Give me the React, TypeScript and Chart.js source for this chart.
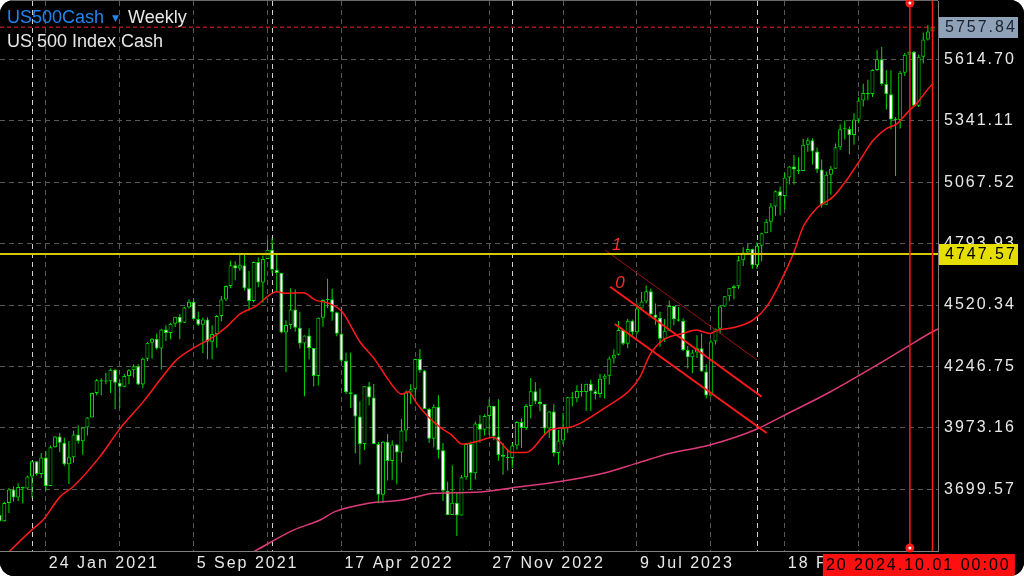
import React, { useEffect, useRef } from "react";
import { Chart, registerables } from "chart.js";

Chart.register(...registerables);

// Weekly bars, index 0 = week of 15 Nov 2020 ... index 202 = week of 29 Sep 2024
const OPEN: number[] = [
  3585.2, 3557.5, 3638.4, 3699.1, 3663.5, 3709.4, 3703.1, 3756.1, 3824.7, 3768.3,
  3841.5, 3714.2, 3886.8, 3934.8, 3906.7, 3811.2, 3841.9, 3943.3, 3913.1, 3974.5,
  4019.9, 4128.8, 4185.5, 4180.2, 4181.2, 4232.6, 4173.9, 4155.9, 4204.1, 4229.9,
  4247.4, 4166.5, 4280.7, 4352.3, 4369.6, 4327.2, 4411.8, 4395.3, 4436.5, 4468.0,
  4441.7, 4509.4, 4535.4, 4458.6, 4433.0, 4455.5, 4357.0, 4391.3, 4471.4, 4544.9,
  4605.4, 4697.5, 4682.9, 4698.0, 4594.6, 4538.4, 4712.0, 4620.6, 4725.8, 4766.2,
  4677.0, 4662.9, 4397.9, 4431.9, 4500.5, 4418.6, 4348.9, 4384.7, 4328.9, 4204.3,
  4463.1, 4543.1, 4545.9, 4488.3, 4392.6, 4271.8, 4131.9, 4123.3, 4023.9, 3901.4,
  4158.2, 4108.5, 3900.9, 3674.8, 3911.7, 3825.3, 3899.4, 3863.2, 3961.6, 4130.3,
  4145.2, 4280.2, 4228.5, 4057.7, 3924.3, 4067.4, 3873.3, 3693.2, 3585.6, 3639.7,
  3583.1, 3752.8, 3901.1, 3770.6, 3992.9, 3965.3, 4026.1, 4071.7, 3934.4, 3852.4,
  3844.8, 3839.5, 3895.1, 3999.1, 3972.6, 4070.6, 4136.5, 4090.5, 4079.1, 3970.0,
  4045.6, 3861.6, 3916.6, 3971.0, 4109.3, 4105.0, 4137.6, 4133.5, 4169.5, 4136.3,
  4124.1, 4192.0, 4205.5, 4282.4, 4298.9, 4409.6, 4348.3, 4450.4, 4399.0, 4505.4,
  4536.3, 4582.2, 4478.0, 4464.1, 4369.7, 4405.7, 4515.8, 4457.5, 4450.3, 4320.1,
  4288.1, 4308.5, 4327.8, 4224.2, 4117.4, 4358.3, 4415.2, 4514.0, 4559.3, 4594.6,
  4604.4, 4719.2, 4754.6, 4769.8, 4697.2, 4783.8, 4839.8, 4891.0, 4958.6, 5026.6,
  5005.6, 5088.8, 5137.1, 5123.7, 5117.1, 5234.2, 5254.4, 5204.3, 5123.4, 4967.2,
  5100.0, 5127.8, 5222.7, 5303.3, 5304.7, 5277.5, 5347.0, 5431.6, 5464.6, 5460.5,
  5567.2, 5615.4, 5505.0, 5459.1, 5349.0, 5344.2, 5554.3, 5634.6, 5648.4, 5408.4,
  5626.0, 5702.6, 5738.2,
];
const HIGH: number[] = [
  3628, 3644, 3705, 3712, 3727, 3711, 3760, 3827, 3823, 3861,
  3870, 3895, 3937, 3950, 3929, 3915, 3960, 3984, 3978, 4021,
  4130, 4191, 4194, 4219, 4238, 4236, 4188, 4213, 4234, 4256,
  4257, 4286, 4356, 4372, 4394, 4415, 4430, 4441, 4468.5, 4480,
  4513, 4546, 4546, 4492, 4465, 4466, 4430, 4476, 4560, 4608,
  4718, 4715, 4744, 4744, 4672, 4714, 4732, 4741, 4809, 4818,
  4749, 4664, 4453, 4595, 4590, 4490, 4385, 4417, 4327, 4465,
  4546, 4637, 4593, 4490, 4513, 4308, 4308, 4124, 4091, 4158.5,
  4178, 4169, 3910, 3914, 3946, 3918, 3901, 4013, 4140, 4168,
  4281, 4325, 4231, 4063, 4077, 4119, 3906, 3733, 3807, 3685,
  3763, 3905, 3912, 4002, 4029, 4034, 4101, 4072, 4101, 3906,
  3878, 3906, 4004, 4015, 4079, 4195, 4176, 4148, 4080, 4048,
  4079, 3965, 4040, 4111, 4133, 4163, 4170, 4170, 4187, 4143,
  4213, 4213, 4291, 4323, 4449, 4410, 4458, 4456, 4528, 4578,
  4607, 4594, 4527, 4490, 4458, 4541, 4518, 4512, 4461, 4338,
  4320, 4386, 4394, 4256, 4366, 4415.5, 4520, 4560, 4595, 4609,
  4739, 4778, 4793, 4772, 4799, 4842, 4904, 4975, 5030, 5048,
  5111, 5140, 5189, 5179, 5261, 5265, 5263, 5222, 5168, 5115,
  5140, 5240, 5326, 5342, 5316, 5375, 5447, 5506, 5524, 5570,
  5656, 5670, 5566, 5566, 5358, 5563, 5643, 5652, 5652, 5636,
  5734, 5767, 5768,
];
const LOW: number[] = [
  3552, 3555, 3594, 3644, 3647, 3636, 3700, 3662, 3760, 3750,
  3694, 3714, 3885, 3865, 3805, 3723, 3819, 3903, 3853, 3939,
  4020, 4118, 4118, 4168, 4128, 4056, 4061, 4154, 4167, 4198,
  4164, 4150, 4271, 4281, 4321, 4233, 4360, 4368, 4422, 4368,
  4440, 4505, 4457, 4428, 4306, 4279, 4279, 4330, 4448, 4537,
  4595, 4631, 4673, 4585, 4495, 4532, 4600, 4531, 4725, 4662,
  4582, 4395, 4222, 4414, 4401, 4327, 4114, 4279, 4157, 4162,
  4424, 4507, 4450, 4381, 4268, 4124, 4062, 3859, 3810, 3875,
  4074, 3900, 3637, 3639, 3739, 3742, 3722, 3819, 3913, 4080,
  4112, 4219, 4057, 3906, 3887, 3837, 3648, 3584, 3585, 3492,
  3583, 3742, 3698, 3743, 3907, 3939, 3942, 3918, 3827, 3764,
  3783, 3794, 3877, 3885, 3964, 4015, 4079, 4047, 3943, 3928,
  3846, 3809, 3899, 3951, 4069, 4087, 4113, 4049, 4048, 4099,
  4109, 4104, 4166, 4260, 4295, 4341, 4328, 4385, 4390, 4505,
  4528, 4475, 4432, 4335, 4356, 4405, 4430, 4447, 4316, 4238,
  4217, 4284, 4223, 4104, 4113, 4344, 4393, 4512, 4537, 4546,
  4593, 4694, 4752, 4682, 4682, 4715, 4840, 4845, 4918, 4920,
  4946, 5057, 5057, 5104, 5117, 5203, 5146, 5108, 4954, 4967,
  5011, 5128, 5211, 5257, 5192, 5234, 5331, 5404, 5432, 5447,
  5563, 5497, 5391, 5303, 5095, 5307, 5540, 5561, 5403, 5402,
  5596, 5698, 5725,
];
const CLOSE: number[] = [
  3557.5, 3638.4, 3699.1, 3663.5, 3709.4, 3703.1, 3756.1, 3824.7, 3768.3, 3841.5,
  3714.2, 3886.8, 3934.8, 3906.7, 3811.2, 3841.9, 3943.3, 3913.1, 3974.5, 4019.9,
  4128.8, 4185.5, 4180.2, 4181.2, 4232.6, 4173.9, 4155.9, 4204.1, 4229.9, 4247.4,
  4166.5, 4280.7, 4352.3, 4369.6, 4327.2, 4411.8, 4395.3, 4436.5, 4468.0, 4441.7,
  4509.4, 4535.4, 4458.6, 4433.0, 4455.5, 4357.0, 4391.3, 4471.4, 4544.9, 4605.4,
  4697.5, 4682.9, 4698.0, 4594.6, 4538.4, 4712.0, 4620.6, 4725.8, 4766.2, 4677.0,
  4662.9, 4397.9, 4431.9, 4500.5, 4418.6, 4348.9, 4384.7, 4328.9, 4204.3, 4463.1,
  4543.1, 4545.9, 4488.3, 4392.6, 4271.8, 4131.9, 4123.3, 4023.9, 3901.4, 4158.2,
  4108.5, 3900.9, 3674.8, 3911.7, 3825.3, 3899.4, 3863.2, 3961.6, 4130.3, 4145.2,
  4280.2, 4228.5, 4057.7, 3924.3, 4067.4, 3873.3, 3693.2, 3585.6, 3639.7, 3583.1,
  3752.8, 3901.1, 3770.6, 3992.9, 3965.3, 4026.1, 4071.7, 3934.4, 3852.4, 3844.8,
  3839.5, 3895.1, 3999.1, 3972.6, 4070.6, 4136.5, 4090.5, 4079.1, 3970.0, 4045.6,
  3861.6, 3916.6, 3971.0, 4109.3, 4105.0, 4137.6, 4133.5, 4169.5, 4136.3, 4124.1,
  4192.0, 4205.5, 4282.4, 4298.9, 4409.6, 4348.3, 4450.4, 4399.0, 4505.4, 4536.3,
  4582.2, 4478.0, 4464.1, 4369.7, 4405.7, 4515.8, 4457.5, 4450.3, 4320.1, 4288.1,
  4308.5, 4327.8, 4224.2, 4117.4, 4358.3, 4415.2, 4514.0, 4559.3, 4594.6, 4604.4,
  4719.2, 4754.6, 4769.8, 4697.2, 4783.8, 4839.8, 4891.0, 4958.6, 5026.6, 5005.6,
  5088.8, 5137.1, 5123.7, 5117.1, 5234.2, 5254.4, 5204.3, 5123.4, 4967.2, 5100.0,
  5127.8, 5222.7, 5303.3, 5304.7, 5277.5, 5347.0, 5431.6, 5464.6, 5460.5, 5567.2,
  5615.4, 5505.0, 5459.1, 5346.6, 5344.2, 5554.3, 5634.6, 5648.4, 5408.4, 5626.0,
  5702.6, 5738.2, 5757.8,
];

// 20-week moving average (red): bar index / price
const MA_FAST_X = [0, 2.2, 6.9, 9.4, 13.1, 15.9, 21.7, 26.1, 31.1, 34.7, 38.3, 41.9, 46.3, 49.2, 52.0, 55.3, 60.0, 61.8, 65.8, 68.3, 71.2, 74.1, 78.0, 81.3, 84.2, 87.1, 88.5, 90.3, 92.8, 95.7, 97.9, 100.1, 102.9, 106.9, 108.3, 110.9, 114.1, 119.2, 123.5, 126.4, 131.4, 136.5, 138.7, 140.8, 143.7, 148.0, 150.9, 153.8, 155.6, 159.2, 163.2, 166.1, 169.0, 171.9, 174.0, 176.9, 180.5, 183.4, 186.3, 189.2, 192.1, 194.2, 196.4, 198.6, 201.8, 202.2];
const MA_FAST_Y = [3380, 3425, 3518, 3563, 3667, 3711, 3845, 3971, 4090, 4186, 4276, 4328, 4379, 4424, 4480, 4513, 4580, 4573, 4575, 4543, 4528, 4491, 4357, 4276, 4186, 4123, 4134, 4083, 4023, 3971, 3941, 3901, 3910, 3931, 3912, 3863, 3864, 3964, 3976, 4001, 4067, 4142, 4201, 4298, 4365, 4394, 4409, 4394, 4409, 4421, 4454, 4513, 4620, 4751, 4869, 4951, 5003, 5077, 5166, 5255, 5307, 5326, 5374, 5419, 5500, 5506];

// 200-week moving average (pink)
const MA_SLOW_X = [50, 55.3, 63.6, 69.4, 72.6, 79.8, 87.1, 94.3, 102.9, 112.7, 121.3, 130.7, 137.9, 145.2, 153.8, 163.9, 169.0, 179.8, 190.6, 197.1, 201.8, 203.2];
const MA_SLOW_Y = [3365, 3425, 3518, 3563, 3600, 3637, 3652, 3682, 3686, 3711, 3734, 3771, 3815, 3860, 3897, 3967, 4020, 4133, 4261, 4342, 4399, 4414];

const X_TICKS = [10, 26, 42, 58, 74, 90, 106, 122, 138, 154, 170, 186, 202];
const X_TICK_LABELS = ["24 Jan 2021", "", "5 Sep 2021", "", "17 Apr 2022", "", "27 Nov 2022", "", "9 Jul 2023", "", "18 Feb 2024", "", ""];
const Y_TICKS = [3699.57, 3973.16, 4246.75, 4520.34, 4793.93, 5067.52, 5341.11, 5614.7];
const YEAR_SEPARATORS = [7, 59, 111, 164];

const X_MIN = 0.07;
const X_MAX = 203.19;
const Y_MIN = 3424.8;
const Y_MAX = 5874.4;

const LEVEL = 4747.57;
const LAST_PRICE = 5757.84;
const V_LINES = [197.1, 202];

// channel / fibo lines (bar index, price)
const FIB1_X = [131.1, 164.0];
const FIB1_Y = [4765.4, 4275.5];
const FIB0_X = [132.2, 165.0];
const FIB0_Y = [4601.9, 4112.0];
const CHAN_X = [133.2, 166.1];
const CHAN_Y = [4435.8, 3950.4];

const LIME = "#00e000";
const FONT = '"Liberation Sans", Arial, sans-serif';

export default function App() {
  const ref = useRef<HTMLCanvasElement>(null);

  useEffect(() => {
    document.body.style.margin = "0";
    document.body.style.background = "#ffffff";
    const canvas = ref.current!;
    const idx = CLOSE.map((_, i) => i);

    const pts = (xs: number[], ys: number[]) => xs.map((x, i) => ({ x, y: ys[i] }));

    const overlay = {
      id: "overlay",
      beforeDraw(chart: any) {
        const { ctx, width, height } = chart;
        ctx.save();
        ctx.fillStyle = "#000";
        ctx.fillRect(0, 0, width, height);
        ctx.restore();
        ctx.letterSpacing = "2px";
      },
      beforeDatasetsDraw(chart: any) {
        const { ctx, chartArea: ca, scales } = chart;
        ctx.save();
        ctx.strokeStyle = "#cfcfcf";
        ctx.lineWidth = 1;
        ctx.setLineDash([5, 4]);
        YEAR_SEPARATORS.forEach((i) => {
          const px = Math.round(scales.x.getPixelForValue(i)) + 0.5;
          ctx.beginPath();
          ctx.moveTo(px, ca.top);
          ctx.lineTo(px, ca.bottom);
          ctx.stroke();
        });
        ctx.restore();
      },
      afterDraw(chart: any) {
        const { ctx, chartArea: ca, scales } = chart;
        const xs = scales.x;
        const ys = scales.y;
        ctx.save();
        ctx.letterSpacing = "0px";
        // top frame
        ctx.strokeStyle = "#6a6a6a";
        ctx.lineWidth = 1;
        ctx.beginPath();
        ctx.moveTo(0, 0.5);
        ctx.lineTo(ca.right, 0.5);
        ctx.stroke();

        // price boxes
        const box = (val: number, bg: string, fg: string, text: string) => {
          const py = Math.round(ys.getPixelForValue(val));
          ctx.fillStyle = bg;
          ctx.fillRect(ca.right + 1, py - 10, 79, 21);
          ctx.letterSpacing = "2px";
          ctx.fillStyle = fg;
          ctx.font = `16px ${FONT}`;
          ctx.textAlign = "left";
          ctx.textBaseline = "middle";
          ctx.fillText(text, ca.right + 7, py + 1);
          ctx.letterSpacing = "0px";
        };
        box(LAST_PRICE, "#8fa2b8", "#1a2230", LAST_PRICE.toFixed(2));
        box(LEVEL, "#e6de00", "#000000", LEVEL.toFixed(2));

        // markers on the vertical line
        const vx = xs.getPixelForValue(V_LINES[0]);
        [ca.top + 2, ca.bottom - 3].forEach((cy: number) => {
          ctx.fillStyle = "#ff1a1a";
          ctx.beginPath();
          ctx.arc(vx, cy, 4.5, 0, Math.PI * 2);
          ctx.fill();
          ctx.fillStyle = "#ffffff";
          ctx.beginPath();
          ctx.arc(vx, cy, 1.5, 0, Math.PI * 2);
          ctx.fill();
        });

        // date label
        ctx.fillStyle = "#ff1010";
        ctx.fillRect(vx - 87, ca.bottom + 3, 192, 22);
        ctx.fillStyle = "#000";
        ctx.font = `16px ${FONT}`;
        ctx.letterSpacing = "2px";
        ctx.textAlign = "left";
        ctx.textBaseline = "alphabetic";
        ctx.fillText("20 2024.10.01 00:00", vx - 84, ca.bottom + 19);
        ctx.letterSpacing = "0px";

        // fibo labels
        ctx.fillStyle = "#ff2a2a";
        ctx.font = `italic 17px ${FONT}`;
        const f1x = xs.getPixelForValue(FIB1_X[0]);
        const f1y = ys.getPixelForValue(FIB1_Y[0]);
        ctx.fillText("1", f1x + 7, f1y);
        const f0x = xs.getPixelForValue(FIB0_X[0]);
        const f0y = ys.getPixelForValue(FIB0_Y[0]);
        ctx.fillText("0", f0x + 5, f0y + 1.5);

        // header
        ctx.font = `18px ${FONT}`;
        ctx.fillStyle = "#1f86f0";
        ctx.fillText("US500Cash", 7, 23);
        ctx.font = `9px "DejaVu Sans"`;
        ctx.fillText("▼", 112, 21);
        ctx.font = `18px ${FONT}`;
        ctx.fillStyle = "#e6e6e6";
        ctx.fillText("Weekly", 128, 23);
        ctx.fillText("US 500 Index Cash", 7, 47);
        ctx.restore();
      },
    };

    const lineDs = (data: any[], color: string, width: number, order: number, extra: any = {}) => ({
      type: "line" as const,
      data,
      borderColor: color,
      borderWidth: width,
      pointRadius: 0,
      fill: false,
      order,
      ...extra,
    });

    const noPad = (s: any) => {
      s.paddingTop = 0;
      s.paddingBottom = 0;
      s.paddingLeft = 0;
      s.paddingRight = 0;
    };

    const chart = new Chart(canvas, {
      type: "bar",
      data: {
        datasets: [
          {
            type: "bar",
            data: idx.map((i) => ({ x: i, y: [LOW[i], HIGH[i]] })),
            backgroundColor: LIME,
            borderWidth: 0,
            barThickness: 1,
            grouped: false,
            inflateAmount: 0,
            order: 20,
          } as any,
          {
            type: "bar",
            data: idx.map((i) => ({ x: i, y: [OPEN[i], CLOSE[i]] })),
            backgroundColor: idx.map((i) => (CLOSE[i] >= OPEN[i] ? "#000000" : "#ffffff")),
            borderColor: LIME,
            borderWidth: 1,
            borderSkipped: false,
            barThickness: 4,
            minBarLength: 1,
            grouped: false,
            inflateAmount: 0,
            order: 19,
          } as any,
          lineDs(pts(MA_SLOW_X, MA_SLOW_Y), "#dc3a78", 1.5, 8, { cubicInterpolationMode: "monotone" }),
          lineDs(pts(MA_FAST_X, MA_FAST_Y), "#ff1a1a", 1.5, 7, { cubicInterpolationMode: "monotone" }),
          lineDs(pts(FIB1_X, FIB1_Y), "#9a1010", 1, 6),
          lineDs(pts(FIB0_X, FIB0_Y), "#ff1a1a", 2, 5),
          lineDs(pts(CHAN_X, CHAN_Y), "#ff1a1a", 2, 5),
          lineDs(pts([X_MIN, X_MAX], [LEVEL, LEVEL]), "#d4c900", 2, 4),
          lineDs(pts([X_MIN, X_MAX], [LAST_PRICE, LAST_PRICE]), "#ff2020", 1, 3, { borderDash: [4, 3] }),
          lineDs(pts([V_LINES[0], V_LINES[0]], [Y_MIN, Y_MAX]), "#ff1a1a", 1.5, 2),
          lineDs(pts([V_LINES[1], V_LINES[1]], [Y_MIN, Y_MAX]), "#ff1a1a", 1.5, 2),
        ],
      },
      options: {
        responsive: false,
        animation: false,
        devicePixelRatio: 1,
        events: [],
        layout: { padding: { top: 1, left: 0, right: 0, bottom: 0 } },
        plugins: { legend: { display: false }, tooltip: { enabled: false } },
        scales: {
          x: {
            type: "linear",
            min: X_MIN,
            max: X_MAX,
            offset: false,
            bounds: "data",
            afterBuildTicks: (s: any) => {
              s.ticks = X_TICKS.map((v) => ({ value: v }));
            },
            afterFit: (s: any) => {
              s.height = 25;
              noPad(s);
            },
            grid: { color: "#585858", lineWidth: 1, drawTicks: false, offset: false },
            border: { display: true, color: "#808080", width: 1, dash: [5, 4] },
            ticks: {
              autoSkip: false,
              maxRotation: 0,
              align: "start",
              labelOffset: 3,
              padding: 3,
              color: "#e8e8e8",
              font: { family: FONT, size: 16 },
              callback: (v: any) => {
                const k = X_TICKS.indexOf(Number(v));
                return k >= 0 ? X_TICK_LABELS[k] : "";
              },
            },
          },
          y: {
            type: "linear",
            position: "right",
            min: Y_MIN,
            max: Y_MAX,
            beginAtZero: false,
            afterBuildTicks: (s: any) => {
              s.ticks = Y_TICKS.map((v) => ({ value: v }));
            },
            afterFit: (s: any) => {
              s.width = 86;
              noPad(s);
            },
            grid: { color: "#585858", lineWidth: 1, drawTicks: false },
            border: { display: true, color: "#808080", width: 1, dash: [5, 4] },
            ticks: {
              padding: 6,
              color: "#e8e8e8",
              font: { family: FONT, size: 16 },
              callback: (v: any) => Number(v).toFixed(2),
            },
          },
        },
      } as any,
      plugins: [overlay],
    });
    return () => chart.destroy();
  }, []);

  return (
    <div style={{ width: 1024, height: 576, borderRadius: 14, overflow: "hidden", background: "#000" }}>
      <canvas ref={ref} width={1024} height={576} style={{ display: "block", width: 1024, height: 576 }} />
    </div>
  );
}
